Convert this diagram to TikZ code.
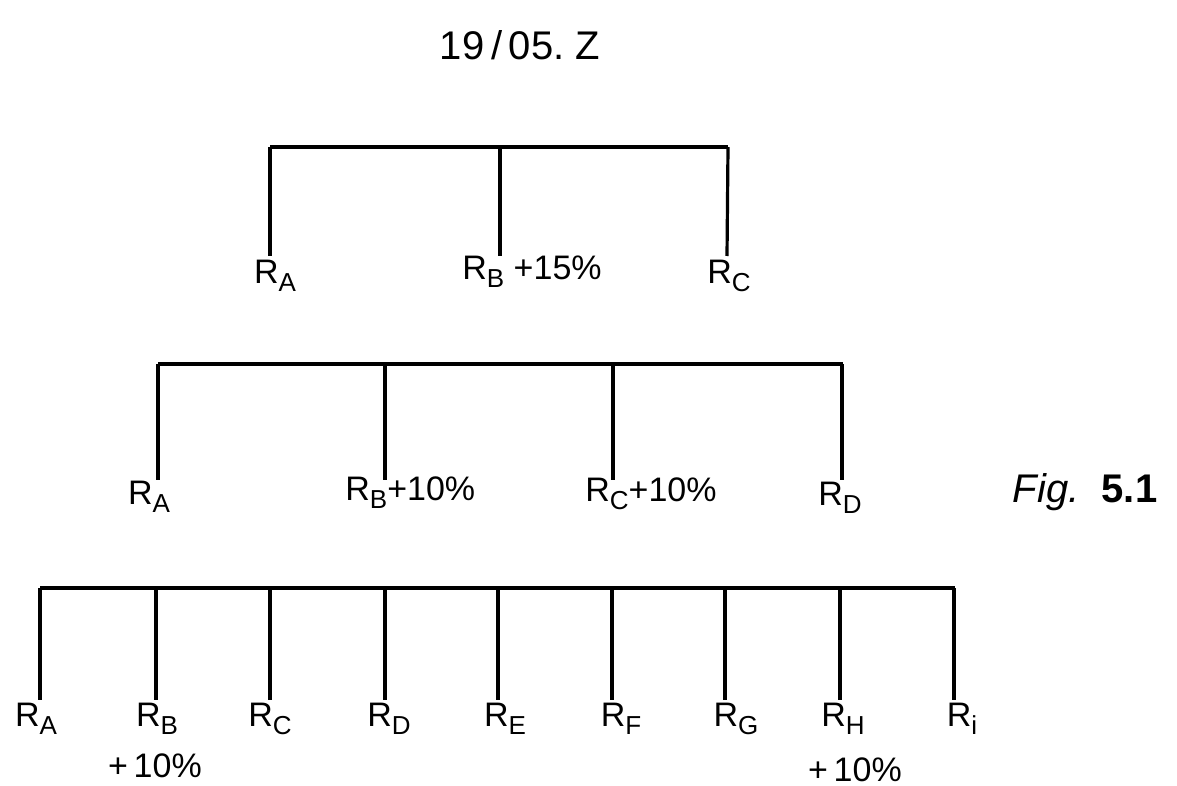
\documentclass[tikz,border=0pt]{standalone}
\usepackage{fontspec}
\setmainfont{Liberation Sans}
\newcommand\rsub[1]{\raisebox{-0.45ex}{\fontsize{13}{13}\selectfont #1}}
\begin{document}
\begin{tikzpicture}[x=0.5pt,y=-0.5pt,
  bar/.style={line width=1.6pt},
  lab/.style={font=\fontsize{17}{19}\selectfont, inner sep=1pt},
  note/.style={font=\fontsize{20}{22}\selectfont, inner sep=1pt}]
\useasboundingbox (0,0) rectangle (1177,786);
% title
\node[note] (title) at (520,45) {19\,/\,05.\ Z};
\node[note] (fig) at (1085,492) {\textit{Fig.}\ \ \textbf{5.1}};
% tree 1
\coordinate (t1l) at (270,147); \coordinate (t1r) at (728,147);
\coordinate (t1b) at (500,147);
\draw[bar] (t1l) -- (t1r);
\node[lab] (a1) at (275,276) {R\rsub{A}};
\node[lab,anchor=west] (b1) at (460,272) {R\rsub{B} +15\%};
\node[lab] (c1) at (729,276) {R\rsub{C}};
\draw[bar] (t1l) -- (270,256);
\draw[bar] (t1b) -- (500,256);
\draw[bar] (t1r) -- (727,256);
% tree 2
\coordinate (t2l) at (158,364); \coordinate (t2r) at (843,364);
\draw[bar] (t2l) -- (t2r);
\node[lab] (a2) at (149,497) {R\rsub{A}};
\node[lab,anchor=west] (b2) at (343,493) {R\rsub{B}+10\%};
\node[lab,anchor=west] (c2) at (583,494) {R\rsub{C}+10\%};
\node[lab] (d2) at (840,498) {R\rsub{D}};
\draw[bar] (t2l) -- (158,480);
\draw[bar] (385,364) -- (385,480);
\draw[bar] (613,364) -- (613,480);
\draw[bar] (842,364) -- (842,480);
% tree 3
\coordinate (t3l) at (40,588); \coordinate (t3r) at (955,588);
\draw[bar] (t3l) -- (t3r);
\foreach \x/\n/\s/\lx in {40/a3/A/36,156/b3/B/157,270/c3/C/270,385/d3/D/389,498/e3/E/505,612/f3/F/621,725/g3/G/736,840/h3/H/843,954/i3/i/962}{
  \draw[bar] (\x,588) -- (\x,700);
  \node[lab] (\n) at (\lx,719) {R\rsub{\s}};
}
\node[lab] (b3p) at (155,766) {+\,10\%};
\node[lab] (h3p) at (855,770) {+\,10\%};
\end{tikzpicture}
\end{document}
